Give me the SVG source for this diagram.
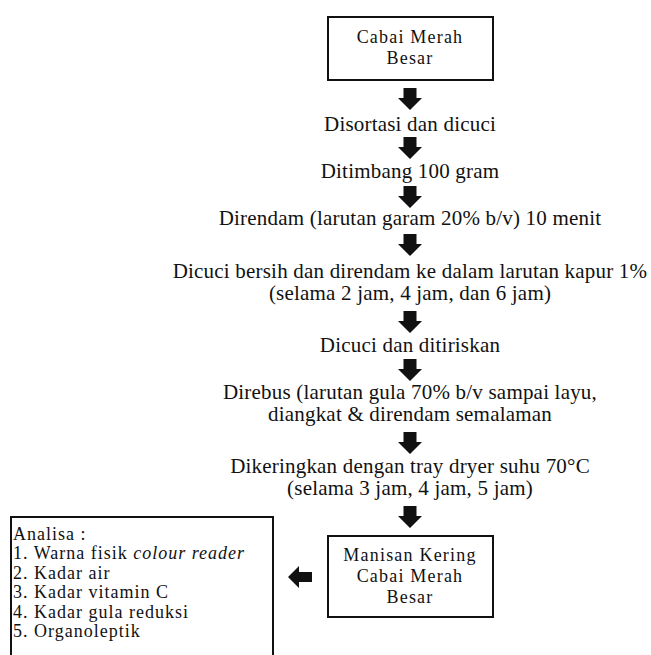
<svg xmlns="http://www.w3.org/2000/svg" width="651" height="655" viewBox="0 0 651 655">
<style>
.c{text-anchor:middle}
.box{fill:#fff;stroke:#111;stroke-width:2}
.arr{fill:#111}
.l{font-size:18px;letter-spacing:1px}
.b{font-size:18px;letter-spacing:1.2px}
</style>
<defs>
<path id="ad" d="M-6.5,0 H6.5 V10 H12 L0,22 L-12,10 H-6.5 Z"/>
<path id="al" d="M0,0 L11,-11 V-5 H24 V5 H11 V11 Z"/>
</defs>
<rect width="651" height="655" fill="#fff"/>
<g id="connectors" class="arr">
<use href="#ad" x="410" y="88"/>
<use href="#ad" x="410" y="137"/>
<use href="#ad" x="410" y="186"/>
<use href="#ad" x="410" y="234"/>
<use href="#ad" x="410" y="311"/>
<use href="#ad" x="410" y="359"/>
<use href="#ad" x="410" y="432"/>
<use href="#ad" x="410" y="506"/>
<use href="#al" x="288" y="577"/>
</g>
<g font-family="Liberation Serif, Times New Roman, DejaVu Serif, serif" font-size="21" letter-spacing="0.2" fill="#111">
<g id="n-start">
<rect class="box" x="328" y="17" width="165" height="63"/>
<text class="c b" x="410" y="43">Cabai Merah<tspan x="410" dy="21">Besar</tspan></text>
</g>
<g id="n-sortasi"><text class="c" x="410" y="131">Disortasi dan dicuci</text></g>
<g id="n-timbang"><text class="c" x="410" y="178">Ditimbang 100 gram</text></g>
<g id="n-rendam"><text class="c" x="410" y="225">Direndam (larutan garam 20% b/v) 10 menit</text></g>
<g id="n-kapur">
<text class="c" x="410" y="278">Dicuci bersih dan direndam ke dalam larutan kapur 1%<tspan x="410" dy="22">(selama 2 jam, 4 jam, dan 6 jam)</tspan></text>
</g>
<g id="n-tiris"><text class="c" x="410" y="352">Dicuci dan ditiriskan</text></g>
<g id="n-rebus">
<text class="c" x="410" y="399">Direbus (larutan gula 70% b/v sampai layu,<tspan x="410" dy="22">diangkat &amp; direndam semalaman</tspan></text>
</g>
<g id="n-kering">
<text class="c" x="410" y="473">Dikeringkan dengan tray dryer suhu 70°C<tspan x="410" dy="22">(selama 3 jam, 4 jam, 5 jam)</tspan></text>
</g>
<g id="n-manisan">
<rect class="box" x="328" y="536" width="165" height="81"/>
<text class="c b" x="410" y="561">Manisan Kering<tspan x="410" dy="21">Cabai Merah</tspan><tspan x="410" dy="21">Besar</tspan></text>
</g>
<g id="n-analisa">
<rect class="box" x="11" y="517" width="262" height="150"/>
<text class="l" x="13" y="540">Analisa :<tspan x="13" dy="19">1. Warna fisik </tspan><tspan font-style="italic">colour reader</tspan><tspan x="13" dy="19.5">2. Kadar air</tspan><tspan x="13" dy="19.5">3. Kadar vitamin C</tspan><tspan x="13" dy="19.5">4. Kadar gula reduksi</tspan><tspan x="13" dy="19.5">5. Organoleptik</tspan></text>
</g>
</g>
</svg>
